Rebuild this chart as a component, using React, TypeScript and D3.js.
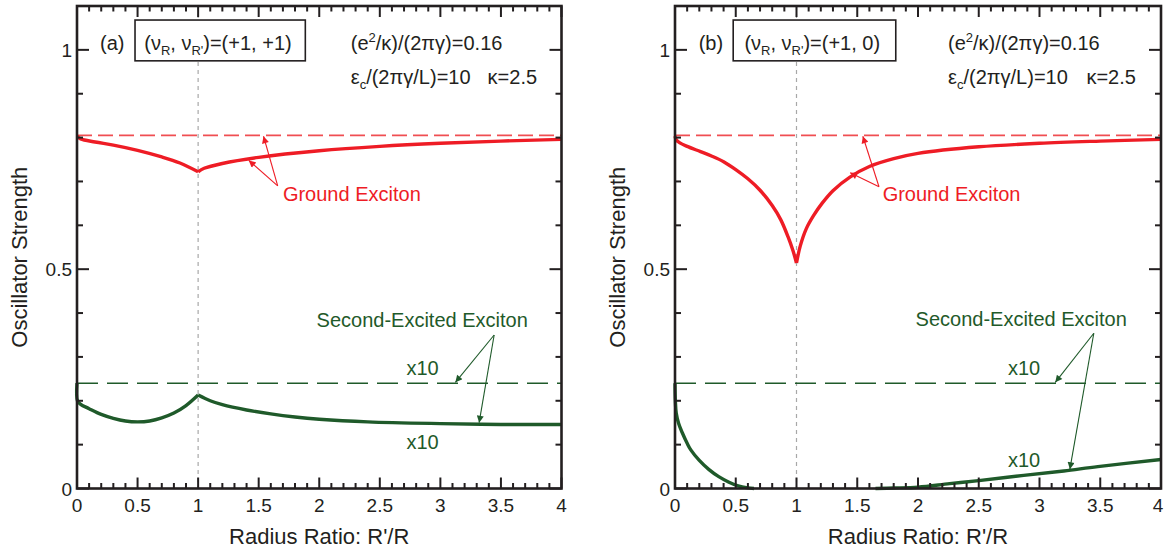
import React from 'react';
import * as d3 from 'd3';

const W = 1164;
const H = 552;
const X_DOMAIN: [number, number] = [0, 4];
const Y_DOMAIN: [number, number] = [0, 1.1];

const xTickValues = [0, 0.5, 1, 1.5, 2, 2.5, 3, 3.5, 4];
const xTickLabels = ['0', '0.5', '1', '1.5', '2', '2.5', '3', '3.5', '4'];
const yTickValues = [0, 0.5, 1];
const yTickLabels = ['0', '0.5', '1'];
const MINOR_STEP = 0.1;

const groundLimit = 0.805;
const secondLimitX10 = 0.24;

// Panel (a): ground exciton, split at the cusp at R'/R = 1
const groundA_left: [number, number][] = [
  [0, 0.803], [0.03, 0.797], [0.15, 0.79], [0.3, 0.783], [0.5, 0.771],
  [0.7, 0.756], [0.85, 0.742], [1, 0.722],
];
const groundA_right: [number, number][] = [
  [1, 0.722], [1.05, 0.73], [1.2, 0.741], [1.5, 0.755], [2, 0.77],
  [2.5, 0.78], [3, 0.787], [3.5, 0.792], [4, 0.796],
];
// Panel (a): second-excited exciton (x10)
const secondA_left: [number, number][] = [
  [0, 0.24], [0.004, 0.2], [0.03, 0.192], [0.1, 0.182], [0.2, 0.169],
  [0.3, 0.16], [0.4, 0.154], [0.5, 0.152], [0.6, 0.154], [0.7, 0.161],
  [0.8, 0.172], [0.9, 0.189], [1, 0.213],
];
const secondA_right: [number, number][] = [
  [1, 0.213], [1.1, 0.2], [1.2, 0.191], [1.4, 0.179], [1.6, 0.17],
  [1.8, 0.163], [2, 0.158], [2.4, 0.152], [3, 0.148], [3.5, 0.146], [4, 0.146],
];
// Panel (b): ground exciton
const groundB_left: [number, number][] = [
  [0, 0.803], [0.01, 0.795], [0.04, 0.788], [0.1, 0.78], [0.21, 0.768],
  [0.3, 0.758], [0.4, 0.745], [0.5, 0.727], [0.6, 0.706], [0.7, 0.68],
  [0.8, 0.645], [0.87, 0.613], [0.93, 0.574], [0.97, 0.543], [1, 0.514],
];
const groundB_right: [number, number][] = [
  [1, 0.514], [1.03, 0.552], [1.08, 0.592], [1.14, 0.622], [1.21, 0.65],
  [1.3, 0.679], [1.44, 0.71], [1.6, 0.734], [1.8, 0.752], [2, 0.764],
  [2.5, 0.779], [3, 0.787], [3.5, 0.792], [4, 0.796],
];
// Panel (b): second-excited exciton (x10)
const secondB_left: [number, number][] = [
  [0, 0.24], [0.003, 0.2], [0.01, 0.172], [0.03, 0.148], [0.06, 0.127],
  [0.1, 0.103], [0.13, 0.088], [0.2, 0.064], [0.28, 0.043], [0.36, 0.027],
  [0.44, 0.015], [0.52, 0.006], [0.6, 0.0015], [0.65, 0],
];
const secondB_right: [number, number][] = [
  [1.65, 0], [1.8, 0.001], [2, 0.003], [2.26, 0.011], [2.5, 0.018],
  [2.87, 0.03], [3.2, 0.04], [3.48, 0.05], [4, 0.066],
];

const RED = '#ee1c25';
const RED_DASH = '#f04e52';
const GREEN = '#1f5a2a';
const AXIS = '#231f20';
const FONT = '"Liberation Sans", Arial, Helvetica, sans-serif';

type Pt = [number, number];
type PanelCfg = {
  left: number;
  right: number;
  label: string;
  nuRp: string;
  ground: Pt[][];
  second: Pt[][];
  ann: {
    label: Pt;
    box: [number, number, number, number];
    boxText: Pt;
    params1: Pt;
    params2: Pt;
    kappa: Pt;
    groundText: Pt;
    groundArrow: { from: Pt; to: Pt[] };
    secondText: Pt;
    secondArrow: { from: Pt; to: Pt[] };
    x10a: Pt;
    x10b: Pt;
  };
};

const panels: PanelCfg[] = [
  {
    left: 77,
    right: 561.5,
    label: '(a)',
    nuRp: '+1',
    ground: [groundA_left, groundA_right],
    second: [secondA_left, secondA_right],
    ann: {
      label: [0.19, 0.999],
      box: [0.479, 1.885, 1.068, 0.975],
      boxText: [0.555, 0.999],
      params1: [2.26, 0.999],
      params2: [2.26, 0.922],
      kappa: [3.39, 0.922],
      groundText: [1.7, 0.655],
      groundArrow: { from: [1.657, 0.69], to: [[1.54, 0.803], [1.418, 0.748]] },
      secondText: [1.978, 0.368],
      secondArrow: { from: [3.444, 0.35], to: [[3.124, 0.242], [3.32, 0.15]] },
      x10a: [2.72, 0.259],
      x10b: [2.72, 0.09],
    },
  },
  {
    left: 675,
    right: 1161,
    label: '(b)',
    nuRp: '0',
    ground: [groundB_left, groundB_right],
    second: [secondB_left, secondB_right],
    ann: {
      label: [0.195, 0.999],
      box: [0.479, 1.817, 1.068, 0.975],
      boxText: [0.571, 0.999],
      params1: [2.247, 0.999],
      params2: [2.247, 0.922],
      kappa: [3.386, 0.922],
      groundText: [1.709, 0.655],
      groundArrow: { from: [1.679, 0.688], to: [[1.546, 0.803], [1.442, 0.72]] },
      secondText: [1.98, 0.37],
      secondArrow: { from: [3.447, 0.354], to: [[3.13, 0.242], [3.25, 0.044]] },
      x10a: [2.74, 0.259],
      x10b: [2.74, 0.049],
    },
  },
];

const PLOT_TOP = 6;
const PLOT_BOTTOM = 488.5;

function Arrow({ from, to, color, markerId, x, y }: any) {
  return (
    <g>
      {to.map((t: Pt, i: number) => (
        <line
          key={i}
          x1={x(from[0])}
          y1={y(from[1])}
          x2={x(t[0])}
          y2={y(t[1])}
          stroke={color}
          strokeWidth={1.1}
          markerEnd={`url(#${markerId})`}
        />
      ))}
    </g>
  );
}

function Panel({ cfg }: { cfg: PanelCfg }) {
  const x = d3.scaleLinear().domain(X_DOMAIN).range([cfg.left, cfg.right]);
  const y = d3.scaleLinear().domain(Y_DOMAIN).range([PLOT_BOTTOM, PLOT_TOP]);
  const line = d3
    .line<Pt>()
    .x((d) => x(d[0]))
    .y((d) => y(d[1]))
    .curve(d3.curveCatmullRom.alpha(0.5));

  const xMinor = d3.range(0, X_DOMAIN[1] + 1e-9, MINOR_STEP);
  const yMinor = d3.range(0, Y_DOMAIN[1] + 1e-9, MINOR_STEP);
  const isMajor = (v: number) => Math.abs(v * 2 - Math.round(v * 2)) < 1e-6;
  const a = cfg.ann;
  const fs = 20;

  return (
    <g fontFamily={FONT}>
      {/* vertical guide at R'/R = 1 */}
      <line
        x1={x(1)}
        x2={x(1)}
        y1={y(Y_DOMAIN[1])}
        y2={y(0)}
        stroke="#a8a8a8"
        strokeWidth={1.2}
        strokeDasharray="4,4"
      />
      {/* asymptotes */}
      <line
        x1={x(0)}
        x2={x(4)}
        y1={y(groundLimit)}
        y2={y(groundLimit)}
        stroke={RED_DASH}
        strokeWidth={1.6}
        strokeDasharray="15,6"
      />
      <line
        x1={x(0)}
        x2={x(4)}
        y1={y(secondLimitX10)}
        y2={y(secondLimitX10)}
        stroke={GREEN}
        strokeWidth={1.4}
        strokeDasharray="21,9"
      />
      {cfg.ground.map((seg, i) => (
        <path key={'g' + i} d={line(seg) || ''} fill="none" stroke={RED} strokeWidth={3.4} strokeLinejoin="round" />
      ))}
      {cfg.second.map((seg, i) => (
        <path key={'s' + i} d={line(seg) || ''} fill="none" stroke={GREEN} strokeWidth={3.4} strokeLinejoin="round" />
      ))}

      {/* frame */}
      <rect
        x={x(0)}
        y={y(Y_DOMAIN[1])}
        width={x(4) - x(0)}
        height={y(0) - y(Y_DOMAIN[1])}
        fill="none"
        stroke={AXIS}
        strokeWidth={2.6}
      />
      {/* x ticks bottom + top */}
      {xMinor.map((v, i) => {
        const len = isMajor(v) ? 11 : 5.5;
        return (
          <g key={'xt' + i} stroke={AXIS} strokeWidth={2}>
            <line x1={x(v)} x2={x(v)} y1={y(0)} y2={y(0) - len} />
            <line x1={x(v)} x2={x(v)} y1={y(Y_DOMAIN[1])} y2={y(Y_DOMAIN[1]) + len} />
          </g>
        );
      })}
      {/* y ticks left + right */}
      {yMinor.map((v, i) => {
        const len = isMajor(v) ? 12 : 6;
        return (
          <g key={'yt' + i} stroke={AXIS} strokeWidth={2}>
            <line x1={x(0)} x2={x(0) + len} y1={y(v)} y2={y(v)} />
            <line x1={x(4)} x2={x(4) - len} y1={y(v)} y2={y(v)} />
          </g>
        );
      })}
      {xTickValues.map((v, i) => (
        <text
          key={'xl' + i}
          x={Math.min(x(v), W - 6)}
          y={y(0) + 23}
          textAnchor="middle"
          fontSize={19}
          fill={AXIS}
        >
          {xTickLabels[i]}
        </text>
      ))}
      {yTickValues.map((v, i) => (
        <text key={'yl' + i} x={x(0) - 5} y={y(v) + 7} textAnchor="end" fontSize={19} fill={AXIS}>
          {yTickLabels[i]}
        </text>
      ))}
      <text x={(x(0) + x(4)) / 2} y={544} textAnchor="middle" fontSize={22} fill={AXIS}>
        Radius Ratio: R'/R
      </text>
      <text
        transform={`translate(${x(0) - 50},${(y(0) + y(Y_DOMAIN[1])) / 2 + 10}) rotate(-90)`}
        textAnchor="middle"
        fontSize={22}
        fill={AXIS}
      >
        Oscillator Strength
      </text>

      {/* labels */}
      <text x={x(a.label[0])} y={y(a.label[1])} fontSize={fs} fill={AXIS}>
        {cfg.label}
      </text>
      <rect
        x={x(a.box[0])}
        y={y(a.box[2])}
        width={x(a.box[1]) - x(a.box[0])}
        height={y(a.box[3]) - y(a.box[2])}
        fill="#fff"
        stroke={AXIS}
        strokeWidth={1.6}
      />
      <text x={x(a.boxText[0])} y={y(a.boxText[1])} fontSize={fs} fill={AXIS}>
        (ν<tspan fontSize={13} dy={5}>R</tspan>
        <tspan dy={-5}>, ν</tspan>
        <tspan fontSize={13} dy={5}>R'</tspan>
        <tspan dy={-5}>)=(+1, {cfg.nuRp})</tspan>
      </text>
      <text x={x(a.params1[0])} y={y(a.params1[1])} fontSize={fs} fill={AXIS}>
        (e<tspan fontSize={13} dy={-8}>2</tspan>
        <tspan dy={8}>/κ)/(2πγ)=0.16</tspan>
      </text>
      <text x={x(a.params2[0])} y={y(a.params2[1])} fontSize={fs} fill={AXIS}>
        ε<tspan fontSize={13} dy={5}>c</tspan>
        <tspan dy={-5}>/(2πγ/L)=10</tspan>
      </text>
      <text x={x(a.kappa[0])} y={y(a.kappa[1])} fontSize={fs} fill={AXIS}>
        κ=2.5
      </text>

      <text x={x(a.groundText[0])} y={y(a.groundText[1])} fontSize={fs} fill={RED}>
        Ground Exciton
      </text>
      <Arrow from={a.groundArrow.from} to={a.groundArrow.to} color={RED} markerId="arrRed" x={x} y={y} />
      <text x={x(a.secondText[0])} y={y(a.secondText[1])} fontSize={fs} fill={GREEN}>
        Second-Excited Exciton
      </text>
      <Arrow from={a.secondArrow.from} to={a.secondArrow.to} color={GREEN} markerId="arrGreen" x={x} y={y} />
      <text x={x(a.x10a[0])} y={y(a.x10a[1])} fontSize={fs} fill={GREEN}>
        x10
      </text>
      <text x={x(a.x10b[0])} y={y(a.x10b[1])} fontSize={fs} fill={GREEN}>
        x10
      </text>
    </g>
  );
}

export default function App() {
  return (
    <svg
      width={W}
      height={H}
      viewBox={`0 0 ${W} ${H}`}
      style={{ position: 'absolute', left: 0, top: 0, background: '#fff' }}
    >
      <defs>
        <marker id="arrRed" viewBox="0 0 10 10" refX="10" refY="5" markerWidth="9" markerHeight="7" markerUnits="userSpaceOnUse" orient="auto">
          <path d="M0,0 L10,5 L0,10 z" fill={RED} />
        </marker>
        <marker id="arrGreen" viewBox="0 0 10 10" refX="10" refY="5" markerWidth="9" markerHeight="7" markerUnits="userSpaceOnUse" orient="auto">
          <path d="M0,0 L10,5 L0,10 z" fill={GREEN} />
        </marker>
      </defs>
      <rect width={W} height={H} fill="#fff" />
      {panels.map((p, i) => (
        <Panel key={i} cfg={p} />
      ))}
    </svg>
  );
}
